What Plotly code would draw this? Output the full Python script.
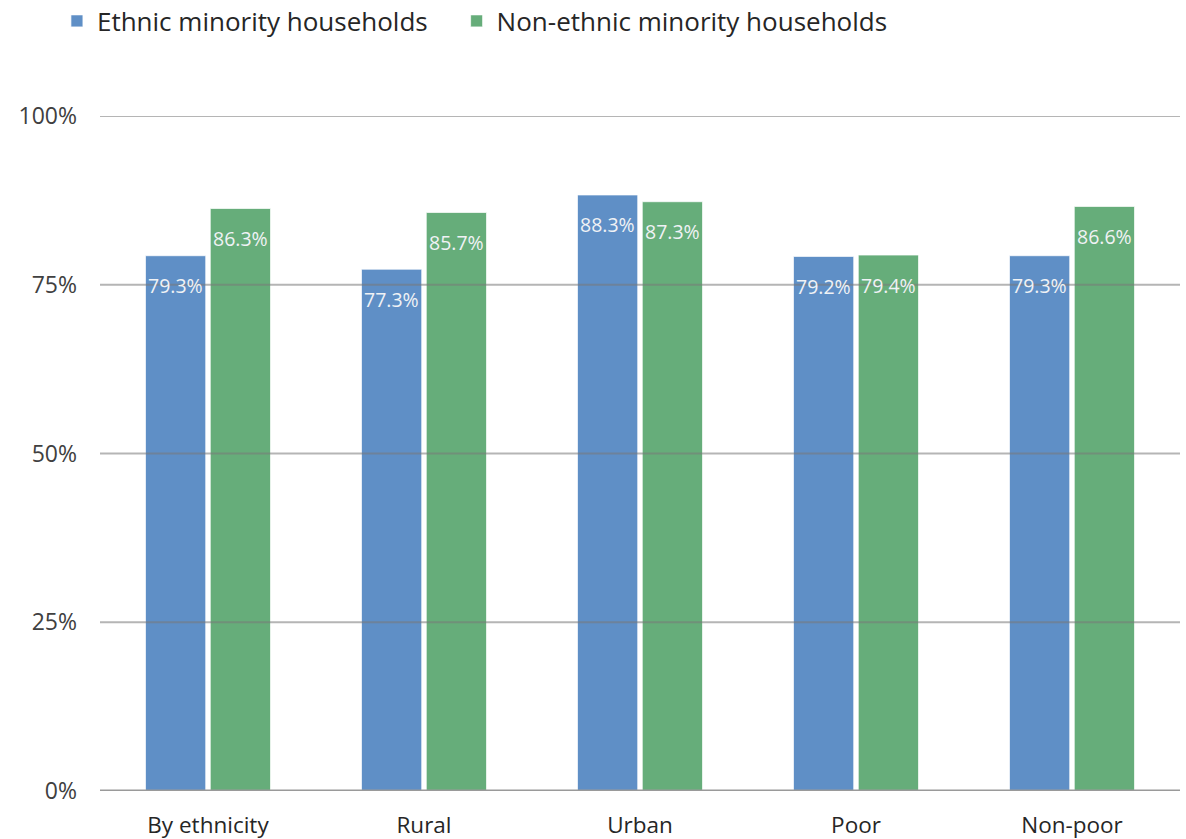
import plotly.graph_objects as go

categories = ["By ethnicity", "Rural", "Urban", "Poor", "Non-poor"]
ethnic_minority = [0.793, 0.773, 0.883, 0.792, 0.793]
non_ethnic_minority = [0.863, 0.857, 0.873, 0.794, 0.866]
tick_vals = [0, 0.25, 0.5, 0.75, 1.0]
tick_text = ["0%", "25%", "50%", "75%", "100%"]

FONT = "Open Sans"
BLUE = "#5f8fc6"
GREEN = "#66ad7a"
BARGAP = 0.40
BARGROUPGAP = 0.07
PLOT_W = 1186 - 100 - 6
OFFSET = PLOT_W / len(categories) * (1 - BARGAP) / 4

fig = go.Figure()
series = [("Ethnic minority households", ethnic_minority, BLUE, -OFFSET, "legend"),
          ("Non-ethnic minority households", non_ethnic_minority, GREEN, OFFSET, "legend2")]
for name, vals, col, _, leg in series:
    fig.add_trace(go.Bar(
        x=categories, y=vals, name=name, legend=leg,
        marker=dict(color=col, line=dict(color="rgba(255,255,255,0.7)", width=1)),
        hoverinfo="skip",
    ))

for v in tick_vals[1:]:
    fig.add_shape(type="line", xref="paper", x0=0, x1=1, yref="y", y0=v, y1=v,
                  line=dict(color="rgba(120,120,120,0.55)", width=2), layer="above")
fig.add_shape(type="line", xref="paper", x0=0, x1=1, yref="y", y0=0, y1=0,
              line=dict(color="#9a9a9a", width=3), layer="above")

for name, vals, col, shift, _ in series:
    for c, v in zip(categories, vals):
        fig.add_annotation(x=c, y=v, text=f"{v*100:.1f}%", showarrow=False,
                           xshift=shift, yshift=-30, yanchor="middle",
                           font=dict(family=FONT, size=19.5, color="#f0f2f5"))

legend_style = dict(orientation="h", xanchor="left", y=0.975, yanchor="middle",
                    xref="container", yref="container",
                    font=dict(family=FONT, size=26, color="#262626"),
                    itemwidth=30, bgcolor="rgba(0,0,0,0)")

fig.update_layout(
    width=1186, height=839,
    margin=dict(l=100, r=6, t=116, b=48),
    paper_bgcolor="white", plot_bgcolor="white",
    barmode="group", bargap=BARGAP, bargroupgap=BARGROUPGAP,
    font=dict(family=FONT, size=22, color="#404040"),
    showlegend=True,
    legend=dict(x=0.048, **legend_style),
    legend2=dict(x=0.385, **legend_style),
    xaxis=dict(showgrid=False, showline=False, ticks="", ticklabelstandoff=18,
               automargin=False,
               tickfont=dict(family=FONT, size=22.5, color="#262626")),
    yaxis=dict(range=[0, 1], tickvals=tick_vals, ticktext=tick_text,
               showgrid=False, zeroline=False, showline=False, ticks="",
               ticklabelstandoff=22, automargin=False,
               tickfont=dict(family=FONT, size=23, color="#404040")),
)

fig.write_html("out.html")
